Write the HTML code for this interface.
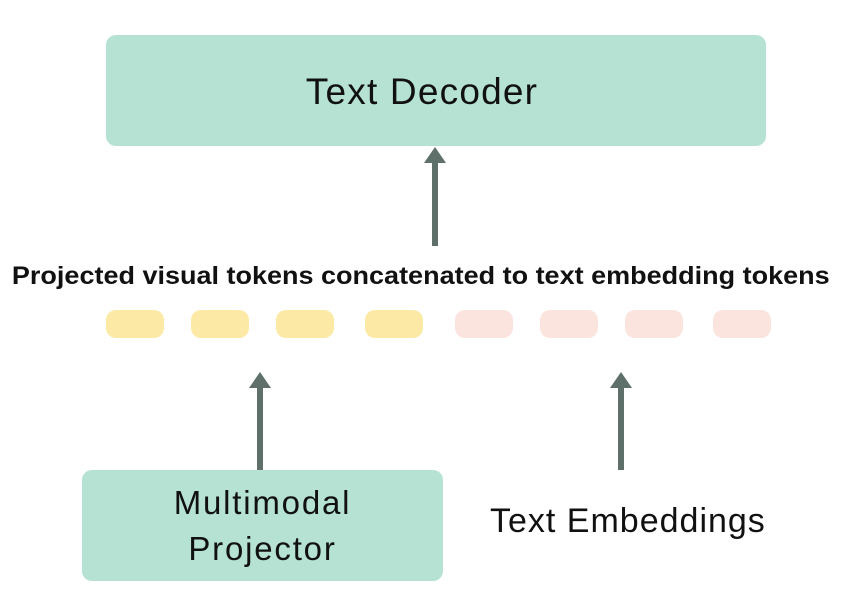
<!DOCTYPE html>
<html><head><meta charset="utf-8"><style>
body{margin:0;width:847px;height:594px;background:#fff;position:relative;overflow:hidden;font-family:"Liberation Sans",sans-serif}
.box{position:absolute;background:#b5e2d2;border-radius:10px;display:flex;align-items:center;justify-content:center;text-align:center;color:#111}
.tok{position:absolute;top:310px;width:58px;height:28px;border-radius:10px}
.y{background:#fce9a6}.p{background:#fbe4dd}
</style></head><body>
<div class="box" style="left:106px;top:35px;width:660px;height:111px;font-size:37px;letter-spacing:1.2px"><span style="position:relative;left:-14px;top:1px">Text Decoder</span></div>
<div class="box" style="left:82px;top:470px;width:361px;height:111px;font-size:33px;line-height:46px;letter-spacing:1.8px">Multimodal<br>Projector</div>
<div style="position:absolute;left:-3px;width:847px;top:262px;text-align:center;font-weight:bold;font-size:25px;color:#111;transform:scaleX(1.08);transform-origin:420px 0">Projected visual tokens concatenated to text embedding tokens</div>
<div style="position:absolute;left:490px;top:502px;font-size:34px;letter-spacing:1px;color:#111">Text Embeddings</div>
<div class="tok y" style="left:106px"></div><div class="tok y" style="left:191px"></div><div class="tok y" style="left:276px"></div><div class="tok y" style="left:365px"></div>
<div class="tok p" style="left:455px"></div><div class="tok p" style="left:540px"></div><div class="tok p" style="left:625px"></div><div class="tok p" style="left:713px"></div>
<svg width="847" height="594" style="position:absolute;left:0;top:0">
<g fill="#5f6f6a">
<rect x="432" y="158" width="6" height="88"/><polygon points="435,147 446,163 424,163"/>
<rect x="257" y="383" width="6" height="87"/><polygon points="260,372 271,388 249,388"/>
<rect x="618" y="383" width="6" height="87"/><polygon points="621,372 632,388 610,388"/>
</g></svg>
</body></html>
